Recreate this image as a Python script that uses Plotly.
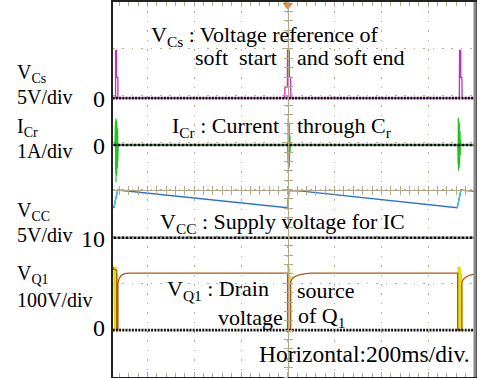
import plotly.graph_objects as go

# ---- time base: milliseconds, trigger at t = 0, 200 ms/div ----
T_MIN, T_MAX = -747, 800

# ---- channel settings: volts (or amps) per division and the screen division of the reference level ----
VCS_SCALE, VCS_REF_LEVEL, VCS_REF_DIV = 5, 0, 5.95
ICR_SCALE, ICR_REF_LEVEL, ICR_REF_DIV = 1, 0, 4.95
VCC_SCALE, VCC_REF_LEVEL, VCC_REF_DIV = 5, 10, 2.97
VQ1_SCALE, VQ1_REF_LEVEL, VQ1_REF_DIV = 100, 0, 1.0

# ---- V_Cs : soft start / soft end reference (V) ----
vcs_t = [-747, -736, -736, -732, -732, -726, -726, -13, -12, -2, -1, 6, 7, 12, 13,
         733, 734, 739, 739, 744, 745, 800]
vcs_v = [0, 0, 5.1, 5.1, 2.2, 2.2, 0, 0, 1.2, 1.2, 5.1, 5.1, 2.2, 2.2, 0,
         0, 5.1, 5.1, 2.2, 2.2, 0, 0]

# ---- I_Cr : resonant capacitor current (A) ----
icr_t = [-747,
         -739, -738.2, -737.4, -736.6, -735.8, -735, -734.2, -733.4, -732.6, -731.8,
         -731, -730.2, -729.4, -728.6, -727.8, -727, -726.2, -725.4, -724.6,
         -1, -0.2, 0.6, 1.4, 2.2, 3, 3.8, 4.6, 5.4, 6.2, 7, 7.8, 8.6, 9.4, 10.2, 11,
         726, 726.8, 727.6, 728.4, 729.2, 730, 730.8, 731.6, 732.4, 733.2, 734, 734.8,
         735.6, 736.4, 737.2, 738, 738.8,
         800]
icr_v = [0,
         0, 0.2, -0.3, 0.5, -0.6, 0.57, -0.8, 0.55, -0.75, 0.52,
         -0.65, 0.5, -0.6, 0.45, -0.5, 0.35, -0.35, 0.15, 0,
         0, 0.3, -0.35, 0.57, -0.53, 0.55, -0.52, 0.5, -0.5, 0.45, -0.45, 0.35, -0.35, 0.2, -0.15, 0,
         0, 0.25, -0.4, 0.58, -0.55, 0.56, -0.53, 0.52, -0.5, 0.48, -0.45, 0.4,
         -0.38, 0.3, -0.22, 0.1, 0,
         0]

# ---- V_CC : IC supply voltage (V) ----
vcc_t = [-747, -743, -727, -2, 6, 60, 724, 740, 800]
vcc_v = [13.2, 13.25, 15.1, 13.2, 15.05, 14.98, 13.2, 15.1, 14.95]

# ---- V_Q1 : drain-source voltage, envelope (V) ----
vq1_t = [-747, -744, -731, -731, -726, -726, -722, -716, -708, -698, -680,
         -1, -1, 12, 12, 21, 34, 51, 77, 102,
         726, 726, 744, 744, 750, 760, 775, 800]
vq1_v = [134, 130, 128, 0, 0, 100, 108, 114, 118, 120.5, 121.5,
         121.5, 0, 0, 104, 111, 115, 118.5, 120.5, 121.5,
         121.5, 0, 0, 102, 108, 113, 117, 119.5]

# ---- V_Q1 : switching bursts (V) ----
vq1_burst_t = [-744, -743, -742, -741, -740, -739, -738, -737, -736, -735, -734, -733,
               -732, -731, -730, -729, -728, -727, None,
               0, 1, 2, 3, 4, 5, 6, 7, 8, 9, 10, 11, 12, 13, None,
               727, 728, 729, 730, 731, 732, 733, 734, 735, 736, 737, 738,
               739, 740, 741, 742, 743, 744]
vq1_burst_v = [135, 2, 134, 0, 136, 3, 132, 0, 135, 2, 130, 0, 133, 1, 128, 0, 120, 0, None,
               136, 0, 134, 2, 135, 0, 132, 1, 133, 0, 128, 0, 115, 0, None,
               136, 0, 135, 2, 134, 0, 136, 1, 132, 0, 134, 2, 131, 0, 128, 0, 120, 0]

# ---- colours ----
C_VCS = "#c42cc4"
C_ICR = "#1fc41f"
C_VCC = "#2a6fd2"
C_VCC_EDGE = "#3cc8e6"
C_VQ1 = "#b0580c"
C_BURST = "#e6de12"
C_GRID = "#b9ae88"
C_AXIS = "#b3a988"
FONT = "Liberation Serif"


def chan_range(scale, ref_level, ref_div):
    """Axis range so that ref_level sits on division ref_div of an 8-division screen."""
    return [ref_level - ref_div * scale, ref_level + (8 - ref_div) * scale]


fig = go.Figure()

# channel traces
fig.add_trace(go.Scatter(x=vcs_t, y=vcs_v, mode="lines", yaxis="y2",
                         line=dict(color=C_VCS, width=1.3)))
fig.add_trace(go.Scatter(x=icr_t, y=icr_v, mode="lines", yaxis="y3",
                         line=dict(color=C_ICR, width=1.1)))
fig.add_trace(go.Scatter(x=vcc_t, y=vcc_v, mode="lines", yaxis="y4",
                         line=dict(color=C_VCC, width=1.4)))
# lighter colour on the V_CC charging edges
for i in (1, 3, 6):
    fig.add_trace(go.Scatter(x=vcc_t[i:i + 2], y=vcc_v[i:i + 2], mode="lines", yaxis="y4",
                             line=dict(color=C_VCC_EDGE, width=1.4)))
fig.add_trace(go.Scatter(x=vq1_burst_t, y=vq1_burst_v, mode="lines", yaxis="y5",
                         line=dict(color=C_BURST, width=1.2), connectgaps=False))
fig.add_trace(go.Scatter(x=vq1_t, y=vq1_v, mode="lines", yaxis="y5",
                         line=dict(color=C_VQ1, width=1.3)))

# reference level markers of each channel
ref_x = [T_MIN - 15, T_MAX - 4]
for axis, level, dash in (("y2", VCS_REF_LEVEL, "2px,1.2px"),
                          ("y3", ICR_REF_LEVEL, "3px,1px"),
                          ("y4", VCC_REF_LEVEL, "3px,1px"),
                          ("y5", VQ1_REF_LEVEL, "2px,1.2px")):
    fig.add_trace(go.Scatter(x=ref_x, y=[level, level], mode="lines", yaxis=axis,
                             cliponaxis=False,
                             line=dict(color="#111111", width=2.6, dash=dash)))

# trigger position marker
fig.add_trace(go.Scatter(x=[0], y=[7.93], mode="markers", yaxis="y", cliponaxis=False,
                         marker=dict(symbol="triangle-down", size=9, color="#f07a2a")))

base_axis = dict(showticklabels=False, zeroline=False, fixedrange=True)

layout = dict(
    width=490, height=378,
    margin=dict(l=113, r=15, t=2, b=1),
    paper_bgcolor="white", plot_bgcolor="white",
    showlegend=False,
    xaxis=dict(base_axis, range=[T_MIN, T_MAX], tickmode="linear", tick0=0, dtick=200,
               showgrid=True, gridcolor=C_GRID, gridwidth=1, griddash="1.5px,7.9px",
               ticks="inside", ticklen=5, tickcolor=C_AXIS, mirror="ticks",
               showline=True, linecolor="#222222", linewidth=1.5,
               minor=dict(tick0=0, dtick=40, ticks="inside", ticklen=4, tickcolor=C_AXIS,
                          showgrid=False)),
    yaxis=dict(base_axis, range=[0, 8], tickmode="linear", tick0=0, dtick=1,
               showgrid=True, gridcolor=C_GRID, gridwidth=1, griddash="1.5px,7.9px",
               ticks="", showline=True, linecolor="#222222", linewidth=1.5, mirror=True),
    yaxis2=dict(base_axis, overlaying="y", visible=False,
                range=chan_range(VCS_SCALE, VCS_REF_LEVEL, VCS_REF_DIV)),
    yaxis3=dict(base_axis, overlaying="y", visible=False,
                range=chan_range(ICR_SCALE, ICR_REF_LEVEL, ICR_REF_DIV)),
    yaxis4=dict(base_axis, overlaying="y", visible=False,
                range=chan_range(VCC_SCALE, VCC_REF_LEVEL, VCC_REF_DIV)),
    yaxis5=dict(base_axis, overlaying="y", visible=False,
                range=chan_range(VQ1_SCALE, VQ1_REF_LEVEL, VQ1_REF_DIV)),
)

# centre graticule cross with minor division marks on both sides
centre_x = (0 - T_MIN) / (T_MAX - T_MIN)
for name, ticks in (("xaxis2", "inside"), ("xaxis3", "outside")):
    layout[name] = dict(base_axis, overlaying="x", anchor="free", position=0.5,
                        range=[T_MIN, T_MAX], tickmode="linear", tick0=0, dtick=40,
                        ticks=ticks, ticklen=4, tickcolor=C_AXIS, showgrid=False,
                        showline=True, linecolor=C_AXIS, linewidth=1)
for name, ticks in (("yaxis6", "inside"), ("yaxis7", "outside")):
    layout[name] = dict(base_axis, overlaying="y", anchor="free", position=centre_x,
                        range=[0, 8], tickmode="linear", tick0=0, dtick=0.2,
                        ticks=ticks, ticklen=4, tickcolor=C_AXIS, showgrid=False,
                        showline=True, linecolor=C_AXIS, linewidth=1)

fig.update_layout(**layout)

# empty traces so that the centre axes are drawn
fig.add_trace(go.Scatter(x=[None], y=[None], xaxis="x2", yaxis="y6", showlegend=False))
fig.add_trace(go.Scatter(x=[None], y=[None], xaxis="x3", yaxis="y7", showlegend=False))

# right edge of the screen in grey
fig.add_shape(type="line", xref="paper", yref="paper", x0=1, x1=1, y0=0, y1=1,
              line=dict(color="#8a8a8a", width=3))


def px_x(px):
    return (px - 113) / 362


def px_y(py):
    return (377 - py) / 375


def label(text, x, y, size, anchor="left"):
    fig.add_annotation(text=text, xref="paper", yref="paper", x=px_x(x), y=px_y(y),
                       xanchor=anchor, yanchor="middle", showarrow=False,
                       font=dict(family=FONT, size=size, color="black"))


# trace descriptions on the screen
label("V<sub>Cs</sub> : Voltage reference of", 149, 36, 22)
label("soft  start", 193, 58, 22)
label("and soft end", 295, 58, 22)
label("I<sub>Cr</sub> : Current", 170, 127, 22)
label("through C<sub>r</sub>", 295, 127, 22)
label("V<sub>CC</sub> : Supply voltage for IC", 158, 223, 22)
label("V<sub>Q1</sub> : Drain", 165, 290, 22)
label("source", 295, 290, 22)
label("voltage", 216, 317, 22)
label("of Q<sub>1</sub>", 296, 317, 22)
label("Horizontal:200ms/div.", 257, 354, 23.5)

# channel names and scales at the left
label("V<sub>Cs</sub>", 15, 73, 20)
label("5V/div", 15, 97, 20)
label("I<sub>Cr</sub>", 15, 128, 20)
label("1A/div", 15, 151, 20)
label("V<sub>CC</sub>", 15, 211, 20)
label("5V/div", 15, 235, 20)
label("V<sub>Q1</sub>", 15, 274, 20)
label("100V/div", 15, 300, 20)

# reference level values
label("0", 107, 99, 24, "right")
label("0", 107, 146, 24, "right")
label("10", 107, 239, 24, "right")
label("0", 107, 328, 24, "right")

fig.write_html("out.html")
